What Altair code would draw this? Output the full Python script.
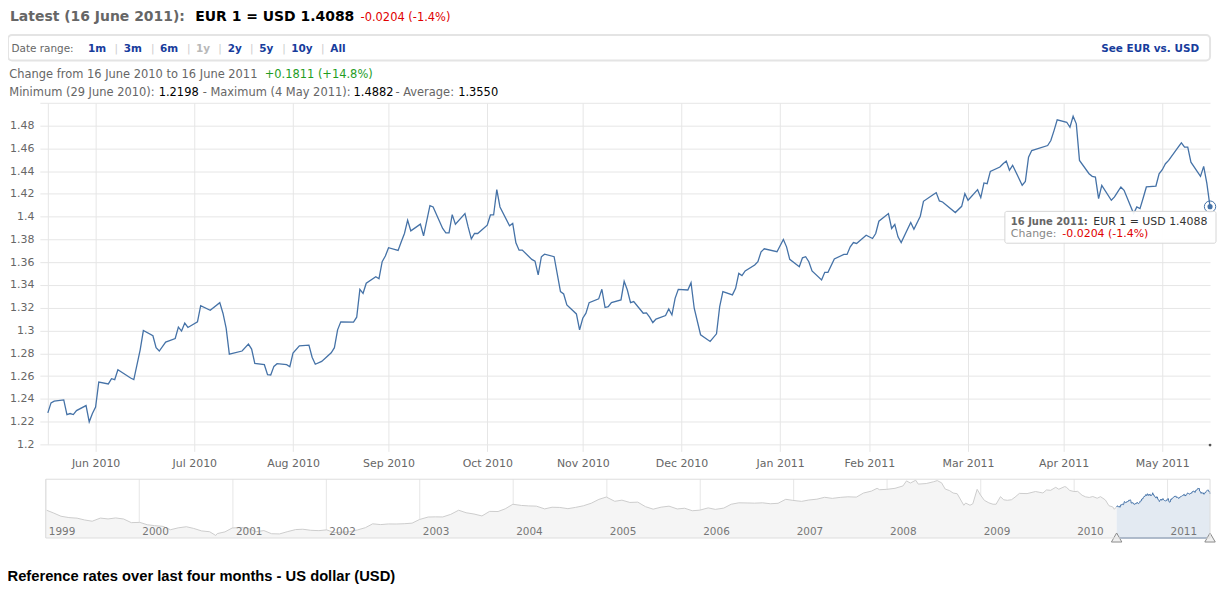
import altair as alt
import pandas as pd

# ---------------- data ----------------
dates = [
    "2010-06-16", "2010-06-17", "2010-06-18", "2010-06-21", "2010-06-22", "2010-06-23", "2010-06-24",
    "2010-06-25", "2010-06-28", "2010-06-29", "2010-06-30", "2010-07-01", "2010-07-02", "2010-07-05",
    "2010-07-06", "2010-07-07", "2010-07-08", "2010-07-12", "2010-07-13", "2010-07-15", "2010-07-16",
    "2010-07-19", "2010-07-20", "2010-07-21", "2010-07-23", "2010-07-26", "2010-07-27", "2010-07-28",
    "2010-07-29", "2010-07-30", "2010-08-02", "2010-08-03", "2010-08-06", "2010-08-09", "2010-08-10",
    "2010-08-11", "2010-08-12", "2010-08-16", "2010-08-18", "2010-08-19", "2010-08-20", "2010-08-23",
    "2010-08-24", "2010-08-25", "2010-08-26", "2010-08-27", "2010-08-30", "2010-08-31", "2010-09-01",
    "2010-09-03", "2010-09-06", "2010-09-07", "2010-09-08", "2010-09-10", "2010-09-13", "2010-09-14",
    "2010-09-15", "2010-09-16", "2010-09-20", "2010-09-21", "2010-09-22", "2010-09-23", "2010-09-24",
    "2010-09-27", "2010-09-28", "2010-09-29", "2010-09-30", "2010-10-01", "2010-10-04", "2010-10-05",
    "2010-10-06", "2010-10-07", "2010-10-08", "2010-10-11", "2010-10-12", "2010-10-14", "2010-10-15",
    "2010-10-18", "2010-10-19", "2010-10-20", "2010-10-21", "2010-10-22", "2010-10-25", "2010-10-26",
    "2010-10-27", "2010-10-28", "2010-10-29", "2010-11-01", "2010-11-02", "2010-11-03", "2010-11-04",
    "2010-11-05", "2010-11-08", "2010-11-09", "2010-11-10", "2010-11-11", "2010-11-12", "2010-11-15",
    "2010-11-16", "2010-11-17", "2010-11-18", "2010-11-19", "2010-11-22", "2010-11-24", "2010-11-25",
    "2010-11-26", "2010-11-29", "2010-11-30", "2010-12-01", "2010-12-02", "2010-12-03", "2010-12-06",
    "2010-12-07", "2010-12-08", "2010-12-09", "2010-12-10", "2010-12-13", "2010-12-14", "2010-12-15",
    "2010-12-16", "2010-12-17", "2010-12-20", "2010-12-21", "2010-12-22", "2010-12-23", "2010-12-24",
    "2010-12-27", "2010-12-28", "2010-12-29", "2010-12-30", "2010-12-31", "2011-01-03", "2011-01-04",
    "2011-01-05", "2011-01-07", "2011-01-10", "2011-01-12", "2011-01-13", "2011-01-14", "2011-01-17",
    "2011-01-18", "2011-01-19", "2011-01-20", "2011-01-21", "2011-01-24", "2011-01-25", "2011-01-26",
    "2011-01-27", "2011-01-31", "2011-02-02", "2011-02-03", "2011-02-04", "2011-02-07", "2011-02-08",
    "2011-02-09", "2011-02-10", "2011-02-11", "2011-02-14", "2011-02-15", "2011-02-16", "2011-02-18",
    "2011-02-21", "2011-02-22", "2011-02-23", "2011-02-24", "2011-02-25", "2011-02-28", "2011-03-02",
    "2011-03-03", "2011-03-04", "2011-03-07", "2011-03-08", "2011-03-09", "2011-03-10", "2011-03-11",
    "2011-03-14", "2011-03-15", "2011-03-17", "2011-03-18", "2011-03-21", "2011-03-22", "2011-03-23",
    "2011-03-24", "2011-03-28", "2011-03-30", "2011-03-31", "2011-04-01", "2011-04-04", "2011-04-05",
    "2011-04-06", "2011-04-07", "2011-04-08", "2011-04-11", "2011-04-12", "2011-04-13", "2011-04-14",
    "2011-04-15", "2011-04-18", "2011-04-19", "2011-04-20", "2011-04-21", "2011-04-26", "2011-04-27",
    "2011-04-28", "2011-04-29", "2011-05-02", "2011-05-03", "2011-05-04", "2011-05-05", "2011-05-06",
    "2011-05-09", "2011-05-10", "2011-05-11", "2011-05-12", "2011-05-13", "2011-05-16", "2011-05-17",
    "2011-05-18", "2011-05-19", "2011-05-20", "2011-05-23", "2011-05-24", "2011-05-25", "2011-05-26",
    "2011-05-27", "2011-05-30", "2011-05-31", "2011-06-01", "2011-06-02", "2011-06-03", "2011-06-06",
    "2011-06-07", "2011-06-08", "2011-06-09", "2011-06-10", "2011-06-13", "2011-06-14", "2011-06-15",
    "2011-06-16",
]
rates = [
    1.2277, 1.2365, 1.2380, 1.2391, 1.2262, 1.2271, 1.2262,
    1.2297, 1.2341, 1.2198, 1.2271, 1.2327, 1.2548, 1.2531,
    1.2577, 1.2569, 1.2656, 1.2583, 1.2569, 1.2831, 1.3000,
    1.2954, 1.2849, 1.2820, 1.2898, 1.2930, 1.3030, 1.2995,
    1.3065, 1.3027, 1.3076, 1.3219, 1.3178, 1.3245, 1.3152,
    1.3021, 1.2793, 1.2820, 1.2881, 1.2837, 1.2712, 1.2700,
    1.2613, 1.2610, 1.2685, 1.2709, 1.2700, 1.2682, 1.2802,
    1.2865, 1.2872, 1.2766, 1.2704, 1.2729, 1.2805, 1.2849,
    1.3006, 1.3076, 1.3073, 1.3117, 1.3362, 1.3327, 1.3415,
    1.3473, 1.3455, 1.3604, 1.3654, 1.3727, 1.3703, 1.3780,
    1.3852, 1.3969, 1.3875, 1.3934, 1.3832, 1.4097, 1.4085,
    1.3896, 1.3858, 1.3858, 1.4018, 1.3934, 1.4027, 1.3910,
    1.3805, 1.3852, 1.3852, 1.3925, 1.4015, 1.4015, 1.4237,
    1.4085, 1.3919, 1.3940, 1.3770, 1.3706, 1.3706, 1.3625,
    1.3610, 1.3488, 1.3648, 1.3671, 1.3648, 1.3342, 1.3321,
    1.3225, 1.3146, 1.3006, 1.3108, 1.3152, 1.3245, 1.3278,
    1.3362, 1.3202, 1.3210, 1.3245, 1.3269, 1.3432, 1.3356,
    1.3245, 1.3254, 1.3152, 1.3155, 1.3117, 1.3070, 1.3100,
    1.3132, 1.3190, 1.3137, 1.3283, 1.3362, 1.3356, 1.3420,
    1.3196, 1.2963, 1.2904, 1.2971, 1.3210, 1.3342, 1.3313,
    1.3371, 1.3502, 1.3482, 1.3523, 1.3575, 1.3604, 1.3692,
    1.3718, 1.3692, 1.3800, 1.3735, 1.3625, 1.3560, 1.3639,
    1.3648, 1.3604, 1.3523, 1.3444, 1.3511, 1.3511, 1.3628,
    1.3668, 1.3668, 1.3735, 1.3773, 1.3765, 1.3837, 1.3808,
    1.3852, 1.3960, 1.4027, 1.3896, 1.3931, 1.3823, 1.3773,
    1.3948, 1.3890, 1.4004, 1.4135, 1.4193, 1.4211, 1.4138,
    1.4129, 1.4036, 1.4091, 1.4202, 1.4144, 1.4237, 1.4167,
    1.4296, 1.4290, 1.4398, 1.4436, 1.4465, 1.4488, 1.4407,
    1.4451, 1.4276, 1.4310, 1.4523, 1.4581, 1.4625, 1.4669,
    1.4756, 1.4850, 1.4829, 1.4785, 1.4882, 1.4815, 1.4494,
    1.4377, 1.4354, 1.4348, 1.4158, 1.4275, 1.4144, 1.4173,
    1.4217, 1.4261, 1.4231, 1.4027, 1.4085, 1.4071, 1.4164,
    1.4261, 1.4269, 1.4377, 1.4412, 1.4465, 1.4494, 1.4610,
    1.4648, 1.4610, 1.4610, 1.4479, 1.4354, 1.4442, 1.4292,
    1.4088,
]

# long-range navigator series (1999 - June 2010), read from the small overview strip
nav_dates = [
    "1999-01-04", "1999-02-01", "1999-03-01", "1999-04-01", "1999-05-03", "1999-06-01", "1999-07-01",
    "1999-08-02", "1999-09-01", "1999-10-01", "1999-11-01", "1999-12-01",
    "2000-01-03", "2000-02-01", "2000-03-01", "2000-04-03", "2000-05-02", "2000-06-01", "2000-07-03",
    "2000-08-01", "2000-09-01", "2000-10-02", "2000-10-26", "2000-11-01", "2000-12-01", "2000-12-29",
    "2001-02-01", "2001-03-01", "2001-04-02", "2001-05-02", "2001-06-01", "2001-07-02", "2001-08-01",
    "2001-09-03", "2001-10-01", "2001-11-01", "2001-12-03",
    "2002-01-02", "2002-02-01", "2002-03-01", "2002-04-02", "2002-05-02", "2002-06-03", "2002-07-01",
    "2002-08-01", "2002-09-02", "2002-10-01", "2002-11-01", "2002-12-02", "2002-12-31",
    "2003-02-03", "2003-03-03", "2003-04-01", "2003-05-02", "2003-06-02", "2003-07-01", "2003-08-01",
    "2003-09-01", "2003-10-01", "2003-11-03", "2003-12-01", "2003-12-31",
    "2004-02-02", "2004-03-01", "2004-04-01", "2004-05-03", "2004-06-01", "2004-07-01", "2004-08-02",
    "2004-09-01", "2004-10-01", "2004-11-01", "2004-12-01", "2004-12-30",
    "2005-02-01", "2005-03-01", "2005-04-01", "2005-05-02", "2005-06-01", "2005-07-01", "2005-08-01",
    "2005-09-01", "2005-10-03", "2005-11-01", "2005-12-01", "2005-12-30",
    "2006-02-01", "2006-03-01", "2006-04-03", "2006-05-02", "2006-06-01", "2006-07-03", "2006-08-01",
    "2006-09-01", "2006-10-02", "2006-11-01", "2006-12-01", "2006-12-29",
    "2007-02-01", "2007-03-01", "2007-04-02", "2007-05-02", "2007-06-01", "2007-07-02", "2007-08-01",
    "2007-09-03", "2007-10-01", "2007-11-01", "2007-11-23", "2007-12-03", "2007-12-31",
    "2008-02-01", "2008-03-03", "2008-03-17", "2008-04-01", "2008-04-22", "2008-05-02", "2008-06-02",
    "2008-07-01", "2008-07-15", "2008-08-01", "2008-08-15", "2008-09-01", "2008-09-15", "2008-10-01",
    "2008-10-27", "2008-11-03", "2008-11-20", "2008-12-01", "2008-12-18", "2008-12-31",
    "2009-01-15", "2009-02-02", "2009-02-18", "2009-03-02", "2009-03-19", "2009-04-01", "2009-04-15",
    "2009-05-01", "2009-05-15", "2009-06-01", "2009-07-01", "2009-08-03", "2009-09-01", "2009-09-15",
    "2009-10-01", "2009-10-21", "2009-11-02", "2009-11-25", "2009-12-01", "2009-12-15", "2009-12-31",
    "2010-01-15", "2010-02-01", "2010-02-15", "2010-03-01", "2010-03-15", "2010-04-01", "2010-04-14",
    "2010-05-03", "2010-05-17", "2010-06-01", "2010-06-07", "2010-06-16",
]
nav_rates = [
    1.179, 1.139, 1.095, 1.076, 1.068, 1.043, 1.025,
    1.069, 1.057, 1.071, 1.056, 1.005,
    1.009, 0.976, 0.963, 0.953, 0.906, 0.932, 0.948,
    0.924, 0.889, 0.878, 0.8252, 0.852, 0.876, 0.930,
    0.938, 0.924, 0.879, 0.894, 0.850, 0.847, 0.878,
    0.908, 0.913, 0.898, 0.893,
    0.904, 0.865, 0.871, 0.879, 0.902, 0.935, 0.989,
    0.978, 0.987, 0.986, 0.990, 0.998, 1.049,
    1.084, 1.086, 1.085, 1.121, 1.179, 1.144, 1.126,
    1.099, 1.163, 1.161, 1.199, 1.263,
    1.246, 1.240, 1.236, 1.198, 1.221, 1.218, 1.201,
    1.219, 1.241, 1.277, 1.331, 1.364,
    1.304, 1.320, 1.288, 1.292, 1.229, 1.194, 1.222,
    1.236, 1.197, 1.207, 1.172, 1.180,
    1.212, 1.191, 1.209, 1.263, 1.283, 1.281, 1.278,
    1.283, 1.270, 1.276, 1.332, 1.317,
    1.303, 1.322, 1.334, 1.360, 1.345, 1.359, 1.367,
    1.363, 1.420, 1.447, 1.486, 1.466, 1.472,
    1.486, 1.519, 1.590, 1.560, 1.599, 1.545, 1.553,
    1.578, 1.594, 1.563, 1.476, 1.454, 1.420, 1.410,
    1.248, 1.280, 1.249, 1.269, 1.472, 1.392,
    1.318, 1.282, 1.263, 1.263, 1.369, 1.325, 1.318,
    1.326, 1.362, 1.415, 1.412, 1.441, 1.421, 1.463,
    1.458, 1.500, 1.473, 1.510, 1.503, 1.456, 1.441,
    1.443, 1.389, 1.366, 1.358, 1.371, 1.347, 1.369,
    1.323, 1.242, 1.225, 1.192, 1.2277,
]

month_ticks = ["2010-07-01", "2010-08-01", "2010-09-01", "2010-10-01", "2010-11-01", "2010-12-01",
               "2011-01-01", "2011-02-01", "2011-03-01", "2011-04-01", "2011-05-01", "2011-06-01"]
y_ticks = [1.2, 1.22, 1.24, 1.26, 1.28, 1.3, 1.32, 1.34, 1.36, 1.38, 1.4, 1.42, 1.44, 1.46, 1.48, 1.5]
nav_years = ["1999", "2000", "2001", "2002", "2003", "2004", "2005", "2006",
             "2007", "2008", "2009", "2010", "2011"]

# ---------------- layout helpers ----------------
OX, OY = 48, 102          # page position of the main plot's top-left corner
W, H = 1167, 343          # main plot size
BLUE = "#4572A7"
GRID = "#e6e6e6"
FONT = "DejaVu Sans"
NAV_MIN, NAV_MAX = 0.79, 1.613


def ms(d):
    return int(pd.Timestamp(d, tz="UTC").value // 10**6)


one = pd.DataFrame({"k": [0]})


def txt(s, px, py, color="#666", size=11, bold=False, align="left", font=FONT):
    return alt.Chart(one).mark_text(
        text=s, align=align, baseline="middle", fontSize=size,
        fontWeight="bold" if bold else "normal", color=color, font=font
    ).encode(x=alt.value(px - OX), y=alt.value(py - OY))


def box(x1, y1, x2, y2, **kw):
    return alt.Chart(one).mark_rect(**kw).encode(
        x=alt.value(x1 - OX), x2=alt.value(x2 - OX), y=alt.value(y1 - OY), y2=alt.value(y2 - OY))


main_df = pd.DataFrame({"date": dates, "rate": rates})
last_df = pd.DataFrame({"date": dates[-1:], "rate": rates[-1:]})
nav_df = pd.DataFrame({"date": nav_dates, "rate": nav_rates})
years_df = pd.DataFrame({"date": [y + "-01-01" for y in nav_years], "year": nav_years})
sel_df = pd.DataFrame({"date": [dates[0]], "end": [dates[-1]]})
handles_df = pd.DataFrame({"date": [dates[0], dates[-1]]})

# ---------------- main chart ----------------
x_main = alt.X(
    "date:T",
    scale=alt.Scale(type="utc", domain=[ms(dates[0]), ms(dates[-1])]),
    axis=alt.Axis(values=[ms(d) for d in month_ticks],
                  labelExpr="utcFormat(datum.value - 86400000, '%b %Y')",
                  title=None, grid=True, gridColor=GRID, domain=False,
                  tickSize=7, tickColor=GRID, labelPadding=6,
                  labelOverlap=False, labelFlush=False, labelBound=False),
)
y_main = alt.Y(
    "rate:Q",
    scale=alt.Scale(domain=[1.2, 1.5]),
    axis=alt.Axis(values=y_ticks,
                  labelExpr="datum.value > 1.49 ? '' : format(datum.value, '.2~f')",
                  title=None, grid=True, gridColor=GRID, domain=True, domainColor=GRID,
                  tickSize=8, tickColor=GRID, labelPadding=6),
)

line = alt.Chart(main_df).mark_line(color=BLUE, strokeWidth=1.3).encode(x=x_main, y=y_main)
halo = alt.Chart(last_df).mark_point(shape="circle", size=130, filled=False, color=BLUE,
                                     strokeWidth=1, opacity=1).encode(x=x_main, y=y_main)
dot = alt.Chart(last_df).mark_circle(size=26, color=BLUE, opacity=1).encode(x=x_main, y=y_main)
main = alt.layer(line, halo, dot)

# ---------------- navigator ----------------
NAV_TOP, NAV_BOT = 480 - OY, 539 - OY
x_nav = alt.X("date:T", scale=alt.Scale(type="utc", domain=[ms("1999-01-01"), ms(dates[-1])],
                                        range=[46 - OX, W]), axis=None)
y_nav = alt.Y("rate:Q", scale=alt.Scale(domain=[NAV_MIN, NAV_MAX], range=[NAV_BOT, NAV_TOP]), axis=None)

nav = alt.layer(
    alt.Chart(years_df).mark_rule(color=GRID, strokeWidth=1).encode(
        x=x_nav, y=alt.value(NAV_TOP), y2=alt.value(NAV_BOT)),
    alt.Chart(nav_df).mark_area(color="#f5f5f5", opacity=1).encode(
        x=x_nav, y=y_nav, y2=alt.datum(NAV_MIN)),
    alt.Chart(nav_df).mark_line(color="#cdcdcd", strokeWidth=1).encode(x=x_nav, y=y_nav),
    alt.Chart(main_df).mark_area(color="#e3eaf2", opacity=1).encode(
        x=x_nav, y=y_nav, y2=alt.datum(NAV_MIN)),
    alt.Chart(main_df).mark_line(color=BLUE, strokeWidth=1).encode(x=x_nav, y=y_nav),
    alt.Chart(years_df).mark_text(align="left", baseline="middle", dx=3, fontSize=10.5,
                                  color="#777", font=FONT).encode(
        x=x_nav, y=alt.value(532.5 - OY), text="year:N"),
    alt.Chart(sel_df).mark_rule(color="#5b7ba5", strokeWidth=1.5).encode(
        x=x_nav, x2="end:T", y=alt.value(NAV_BOT)),
    alt.Chart(handles_df).mark_point(shape="triangle-up", size=110, filled=True, fill="#f0f0f0",
                                     stroke="#8a8a8a", strokeWidth=1, opacity=1).encode(
        x=x_nav, y=alt.value(NAV_BOT - 0.5)),
)

# ---------------- decorations / texts ----------------
BLUE_LINK = "#173c9c"
deco = [
    # header
    txt("Latest (16 June 2011):", 10, 16, "#666", 14, True),
    txt("EUR 1 = USD 1.4088", 196, 16, "#000", 14, True),
    txt("-0.0204 (-1.4%)", 362, 17, "#e00000", 11.5),
    box(8, 34, 1215, 59.5, fill="white", stroke="#e4e4e4", strokeWidth=2, cornerRadius=4),
    txt("Date range:", 11.5, 47.5, "#666", 10.5),
    txt("1m", 88.3, 47.5, BLUE_LINK, 10.5, True),
    txt("|", 115, 47.5, "#cccccc", 10.5),
    txt("3m", 124.3, 47.5, BLUE_LINK, 10.5, True),
    txt("|", 151.7, 47.5, "#cccccc", 10.5),
    txt("6m", 160.7, 47.5, BLUE_LINK, 10.5, True),
    txt("|", 187.7, 47.5, "#cccccc", 10.5),
    txt("1y", 196.7, 47.5, "#b8b8b8", 10.5, True),
    txt("|", 219, 47.5, "#cccccc", 10.5),
    txt("2y", 228.7, 47.5, BLUE_LINK, 10.5, True),
    txt("|", 251, 47.5, "#cccccc", 10.5),
    txt("5y", 260.3, 47.5, BLUE_LINK, 10.5, True),
    txt("|", 283.3, 47.5, "#cccccc", 10.5),
    txt("10y", 292.3, 47.5, BLUE_LINK, 10.5, True),
    txt("|", 322.3, 47.5, "#cccccc", 10.5),
    txt("All", 331.7, 47.5, BLUE_LINK, 10.5, True),
    txt("See EUR vs. USD", 1204, 47.5, BLUE_LINK, 10.5, True, align="right"),
    txt("Change from 16 June 2010 to 16 June 2011", 9.3, 74, "#666", 11.5),
    txt("+0.1811 (+14.8%)", 265.7, 74, "#1f9d1f", 11.5),
    txt("Minimum (29 June 2010):", 9.3, 92, "#666", 11.5),
    txt("1.2198", 159.3, 92, "#000", 11.5),
    txt("- Maximum (4 May 2011):", 203.5, 92, "#666", 11.5),
    txt("1.4882", 355, 92, "#000", 11.5),
    txt("- Average:", 397, 92, "#666", 11.5),
    txt("1.3550", 460, 92, "#000", 11.5),
    # tooltip
    box(1009, 211, 1221, 243, fill="white", fillOpacity=0.92, stroke="#d6d6d6", strokeWidth=1,
        cornerRadius=2),
    txt("16 June 2011:", 1015, 221.7, "#666", 10, True),
    txt("EUR 1 = USD 1.4088", 1097.7, 221.7, "#333", 11),
    txt("Change:", 1015, 234, "#888", 11),
    txt("-0.0204 (-1.4%)", 1066.7, 234, "#e00000", 11),
    # navigator frame and corner dot
    box(46, 480, 1215, 539, fill="white", fillOpacity=0, stroke="#dddddd", strokeWidth=1),
    alt.Chart(one).mark_circle(size=8, color="#555", opacity=1).encode(
        x=alt.value(W), y=alt.value(H + 0.7)),
    # footer
    txt("Reference rates over last four months - US dollar (USD)", 7.5, 578, "#000", 14.8, True,
        font="Liberation Sans"),
]

chart = alt.layer(main, nav, *deco).resolve_scale(x="independent", y="independent").properties(
    width=W, height=H,
    autosize=alt.AutoSizeParams(type="none"),
    padding={"left": OX - 8, "top": OY - 8, "right": 10, "bottom": 141},
).configure_view(stroke=None).configure_axis(
    labelFont=FONT, labelFontSize=11, labelColor="#666"
)

chart.save("out.html", embed_options={"renderer": "svg", "actions": False})
